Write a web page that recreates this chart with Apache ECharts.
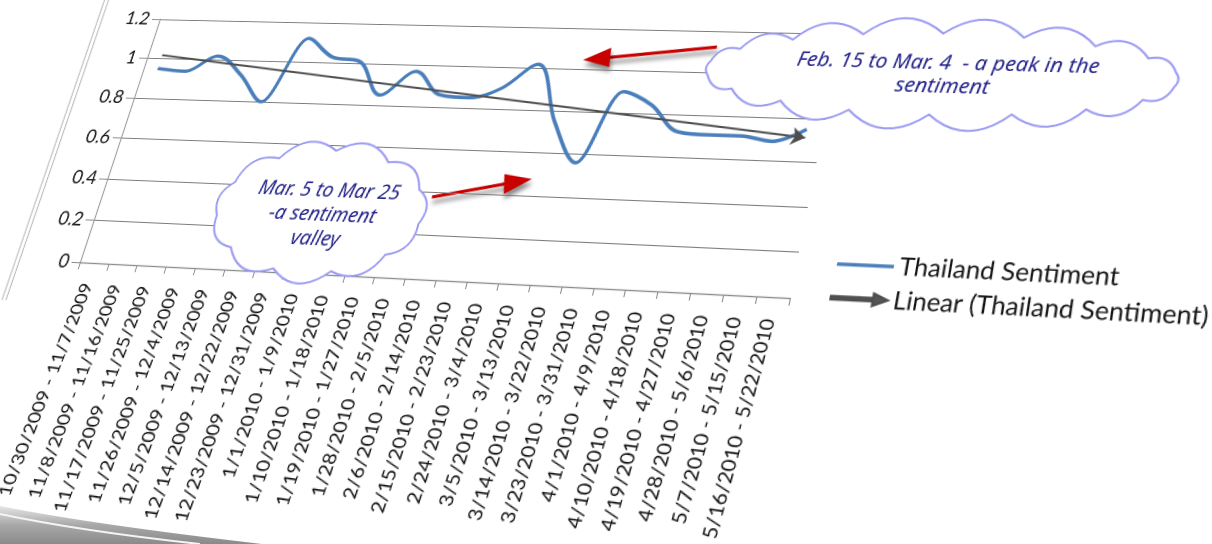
<!DOCTYPE html>
<html>
<head>
<meta charset="utf-8">
<script src="https://cdn.jsdelivr.net/npm/echarts@6/dist/echarts.min.js"></script>
<style>
  html, body { margin: 0; padding: 0; width: 1212px; height: 544px; overflow: hidden; background: #fff; }
  #sheet { position: absolute; left: 0; top: 0; width: 1300px; height: 580px; transform-origin: 0 0; }
  #chart { position: absolute; left: 0; top: 0; width: 1300px; height: 580px; }
  #curl { position: absolute; left: 0; top: 0; pointer-events: none; }
</style>
</head>
<body>
<div id="sheet"><div id="chart"></div></div>
<svg id="curl" width="1212" height="544">
  <defs>
    <linearGradient id="curlGrad" x1="0" y1="0" x2="0" y2="1">
      <stop offset="0" stop-color="#e6e6e6"/>
      <stop offset="0.5" stop-color="#a8a8a8"/>
      <stop offset="1" stop-color="#8a8a8a"/>
    </linearGradient>
  </defs>
  <path d="M0,506 Q90,524 262,544 L0,544 Z" fill="url(#curlGrad)"/>
  <path d="M0,514 Q80,531 200,544" fill="none" stroke="#f4f4f4" stroke-width="2"/>
</svg>
<script>
// ---- data ----
const categories = [
  '10/30/2009 - 11/7/2009', '11/8/2009 - 11/16/2009', '11/17/2009 - 11/25/2009',
  '11/26/2009 - 12/4/2009', '12/5/2009 - 12/13/2009', '12/14/2009 - 12/22/2009',
  '12/23/2009 - 12/31/2009', '1/1/2010 - 1/9/2010', '1/10/2010 - 1/18/2010',
  '1/19/2010 - 1/27/2010', '1/28/2010 - 2/5/2010', '2/6/2010 - 2/14/2010',
  '2/15/2010 - 2/23/2010', '2/24/2010 - 3/4/2010', '3/5/2010 - 3/13/2010',
  '3/14/2010 - 3/22/2010', '3/23/2010 - 3/31/2010', '4/1/2010 - 4/9/2010',
  '4/10/2010 - 4/18/2010', '4/19/2010 - 4/27/2010', '4/28/2010 - 5/6/2010',
  '5/7/2010 - 5/15/2010', '5/16/2010 - 5/22/2010'
];
const sentiment = [0.95, 0.94, 1.02, 0.93, 0.80, 1.12, 1.03, 1.01, 0.85, 0.97, 0.86, 0.85,
                   0.90, 1.02, 0.75, 0.56, 0.90, 0.84, 0.72, 0.71, 0.71, 0.69, 0.75];
const yTickLabels = ['0', '0.2', '0.4', '0.6', '0.8', '1', '1.2'];
const seriesName = 'Thailand Sentiment';
const trendName = 'Linear (Thailand Sentiment)';
const peakNote = 'Feb. 15 to Mar. 4  - a peak in the\nsentiment';
const valleyNote = 'Mar. 5 to Mar 25\n-a sentiment\nvalley';

// least-squares trend of the sentiment series
function linearFit(vals) {
  const n = vals.length;
  let sx = 0, sy = 0, sxx = 0, sxy = 0;
  vals.forEach((v, i) => { sx += i; sy += v; sxx += i * i; sxy += i * v; });
  const slope = (n * sxy - sx * sy) / (n * sxx - sx * sx);
  const icept = (sy - slope * sx) / n;
  return { slope, icept };
}
const fit = linearFit(sentiment);
const trendFrom = fit.icept;
const trendTo = fit.icept + fit.slope * (sentiment.length - 1);

// ---- flat layout of the sheet ----
const GL = 110, GT = 40, GW = 710, GH = 255;
// where the plot rectangle lands on the tilted sheet (TL, TR, BR, BL)
const quad = [[160, 19.3], [842, 33.9], [790, 298], [80, 262.3]];

function squareToQuad(q) {
  const [x0, y0] = q[0], [x1, y1] = q[1], [x2, y2] = q[2], [x3, y3] = q[3];
  const dx1 = x1 - x2, dx2 = x3 - x2, dx3 = x0 - x1 + x2 - x3;
  const dy1 = y1 - y2, dy2 = y3 - y2, dy3 = y0 - y1 + y2 - y3;
  const den = dx1 * dy2 - dx2 * dy1;
  const g = (dx3 * dy2 - dx2 * dy3) / den;
  const h = (dx1 * dy3 - dx3 * dy1) / den;
  return { a: x1 - x0 + g * x1, b: x3 - x0 + h * x3, c: x0,
           d: y1 - y0 + g * y1, e: y3 - y0 + h * y3, f: y0, g, h };
}
const S = squareToQuad(quad);
const A = S.a / GW, B = S.b / GH, D = S.d / GW, E = S.e / GH, G = S.g / GW, Hh = S.h / GH;
const C = S.c - A * GL - B * GT, F = S.f - D * GL - E * GT, K = 1 - G * GL - Hh * GT;

document.getElementById('sheet').style.transform =
  `matrix3d(${A},${D},0,${G},${B},${E},0,${Hh},0,0,1,0,${C},${F},0,${K})`;

// screen point -> flat sheet point
function toFlat(X, Y) {
  const a11 = A - G * X, a12 = B - Hh * X, r1 = K * X - C;
  const a21 = D - G * Y, a22 = E - Hh * Y, r2 = K * Y - F;
  const det = a11 * a22 - a12 * a21;
  return [(r1 * a22 - a12 * r2) / det, (a11 * r2 - r1 * a21) / det];
}

// scalloped cloud outline
function cloudPoints(cx, cy, rx, ry, n, bulge) {
  const base = [];
  for (let k = 0; k < n; k++) {
    const t = -Math.PI / 2 + 2 * Math.PI * k / n;
    base.push([cx + rx * Math.cos(t), cy + ry * Math.sin(t)]);
  }
  const pts = [];
  for (let k = 0; k < n; k++) {
    const q = base[k], p = base[(k + 1) % n];
    const dx = p[0] - q[0], dy = p[1] - q[1];
    const c = Math.hypot(dx, dy);
    const nx = dy / c, ny = -dx / c;
    const ctrl = [(p[0] + q[0]) / 2 + nx * c * bulge, (p[1] + q[1]) / 2 + ny * c * bulge];
    for (let s = 0; s < 10; s++) {
      const t = s / 10, u = 1 - t;
      pts.push([u * u * q[0] + 2 * u * t * ctrl[0] + t * t * p[0],
                u * u * q[1] + 2 * u * t * ctrl[1] + t * t * p[1]]);
    }
  }
  return pts;
}
function cloud(l, r, t, b, n, bulge) {
  const L = toFlat(l[0], l[1]), R = toFlat(r[0], r[1]);
  const T = toFlat(t[0], t[1]), Bt = toFlat(b[0], b[1]);
  const cx = (L[0] + R[0]) / 2, cy = (T[1] + Bt[1]) / 2;
  let rx = (R[0] - L[0]) / 2, ry = (Bt[1] - T[1]) / 2;
  const per = Math.PI * (3 * (rx + ry) - Math.sqrt((3 * rx + ry) * (rx + 3 * ry)));
  const bump = per / n * bulge / 2;
  rx -= bump; ry -= bump;
  return {
    type: 'polygon', z: 10,
    shape: { points: cloudPoints(cx, cy, rx, ry, n, bulge) },
    style: { fill: '#fff', stroke: '#9b9bf2', lineWidth: 2 }
  };
}
function note(text, at, size, lh) {
  const p = toFlat(at[0], at[1]);
  return {
    type: 'text', z: 11, x: p[0], y: p[1],
    style: { text, fill: '#23238a', font: `italic ${size}px "Noto Sans"`,
             align: 'center', verticalAlign: 'middle', lineHeight: lh }
  };
}
function redArrow(tail, tip) {
  const a = toFlat(tail[0], tail[1]), b = toFlat(tip[0], tip[1]);
  const dx = b[0] - a[0], dy = b[1] - a[1], len = Math.hypot(dx, dy);
  const ux = dx / len, uy = dy / len, hl = 27, hw = 10;
  const base = [b[0] - ux * hl, b[1] - uy * hl];
  const shadow = { shadowBlur: 5, shadowColor: 'rgba(0,0,0,0.45)', shadowOffsetX: 2, shadowOffsetY: 5 };
  return {
    type: 'group', z: 12,
    children: [
      { type: 'line', shape: { x1: a[0], y1: a[1], x2: base[0] + ux * 2, y2: base[1] + uy * 2 },
        style: Object.assign({ stroke: '#c80000', lineWidth: 3.2 }, shadow) },
      { type: 'polygon',
        shape: { points: [b, [base[0] - uy * hw, base[1] + ux * hw], [base[0] + uy * hw, base[1] - ux * hw]] },
        style: Object.assign({ fill: '#c80000' }, shadow) }
    ]
  };
}
function sheetEdge(offset) {
  const p = toFlat(108 + offset, -10), q = toFlat(2 + offset, 300);
  return { type: 'line', z: 1, shape: { x1: p[0], y1: p[1], x2: q[0], y2: q[1] },
           style: { stroke: '#b9b9b9', lineWidth: 1.2 } };
}

const legendPos = toFlat(834, 246);

const chart = echarts.init(document.getElementById('chart'), null, { renderer: 'canvas', devicePixelRatio: 2 });
chart.setOption({
  animation: false,
  backgroundColor: 'transparent',
  grid: { left: GL, top: GT, width: GW, height: GH },
  xAxis: {
    type: 'category',
    data: categories,
    boundaryGap: true,
    axisLine: { lineStyle: { color: '#8a8a8a', width: 1.2 } },
    axisTick: { show: true, length: 7, interval: 0, lineStyle: { color: '#8a8a8a' } },
    axisLabel: { interval: 0, rotate: 86, margin: 20, fontSize: 18, fontFamily: 'Lato', color: '#111' },
    splitLine: { show: false }
  },
  yAxis: {
    type: 'value',
    min: 0, max: 1.2, interval: 0.2,
    axisLine: { show: true, lineStyle: { color: '#9a9a9a', width: 1.2 } },
    axisTick: { show: true, length: 9, lineStyle: { color: '#8a8a8a' } },
    axisLabel: { formatter: (v, i) => yTickLabels[i], margin: 12, fontSize: 19, fontFamily: 'Lato', color: '#151515' },
    splitLine: { lineStyle: { color: '#7c7c7c', width: 1.1 } }
  },
  legend: {
    orient: 'vertical', left: legendPos[0], top: legendPos[1],
    itemGap: 8, itemWidth: 52, itemHeight: 14,
    textStyle: { fontSize: 23, fontFamily: 'Lato', color: '#151515' },
    data: [
      { name: seriesName, icon: 'path://M0,0 L50,0 L50,3.2 L0,3.2 Z', itemStyle: { color: '#4a7ebb' } },
      { name: trendName, icon: 'path://M0,4 L37,4 L37,0 L50,5.5 L37,11 L37,7 L0,7 Z', itemStyle: { color: '#555' } }
    ]
  },
  series: [
    {
      name: seriesName, type: 'line', data: sentiment,
      smooth: 0.35, symbol: 'none', z: 3,
      lineStyle: { color: '#4a7ebb', width: 3.6 },
      itemStyle: { color: '#4a7ebb' }
    },
    {
      name: trendName, type: 'lines', coordinateSystem: 'cartesian2d', z: 4,
      symbol: ['none', 'arrow'], symbolSize: 13,
      lineStyle: { color: '#4d4d4d', width: 2, opacity: 1 },
      itemStyle: { color: '#4d4d4d' },
      data: [{ coords: [[categories[0], trendFrom], [categories[categories.length - 1], trendTo]] }]
    }
  ],
  graphic: [
    sheetEdge(0), sheetEdge(4),
    cloud([693, 72], [1192, 80], [940, 22], [945, 127], 18, 0.42),
    note(peakNote, [944, 75], 20, 23),
    cloud([205, 212], [437, 205], [322, 138], [315, 286], 11, 0.45),
    note(valleyNote, [322, 215], 20, 24),
    redArrow([717, 47], [583, 60]),
    redArrow([432, 197], [532, 179])
  ]
});
</script>
</body>
</html>
